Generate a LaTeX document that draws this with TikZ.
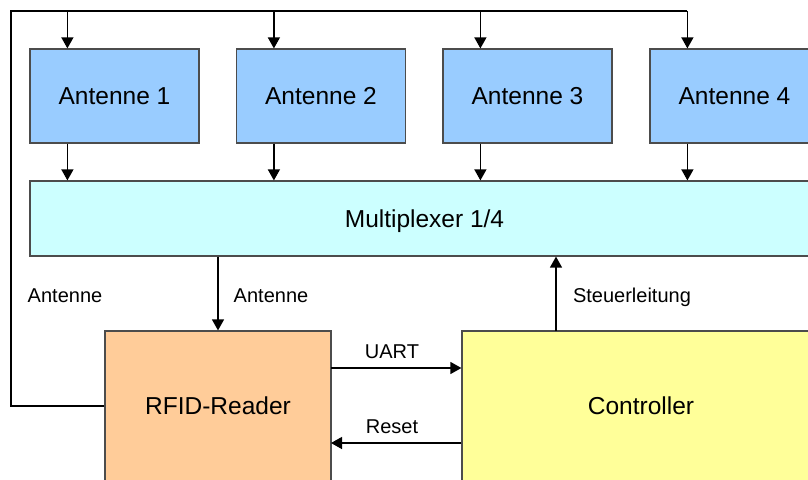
\documentclass[tikz,border=0pt]{standalone}
\usepackage{fontspec}
\setmainfont{Liberation Sans}
\usetikzlibrary{arrows.meta}

\definecolor{antfill}{HTML}{99CCFF}
\definecolor{muxfill}{HTML}{CCFFFF}
\definecolor{rfidfill}{HTML}{FFCC99}
\definecolor{ctrlfill}{HTML}{FFFF99}

\tikzset{
  block/.style={draw=black!70, line width=1.2pt, rectangle, inner sep=0pt,
    text height=17.5pt, text depth=0pt,
    font=\fontsize{24.5}{29}\selectfont},
  antbox/.style={block, fill=antfill, minimum width=169pt, minimum height=94pt},
  wire/.style={line width=1.3pt, draw=black},
  arr/.style={wire, -{Triangle[length=11pt,width=12pt]}},
  lbl/.style={anchor=base, inner sep=0pt, font=\fontsize{20}{24}\selectfont}
}

\begin{document}
\begin{tikzpicture}[x=1pt,y=-1pt]
  \useasboundingbox (0,0) rectangle (808,479);
  \clip (0,0) rectangle (808,479);

  % antenna row
  \node[antbox] (ant1) at (114.5,96) {Antenne 1};
  \node[antbox] (ant2) at (321,96) {Antenne 2};
  \node[antbox] (ant3) at (527.5,96) {Antenne 3};
  \node[antbox] (ant4) at (734.5,96) {Antenne 4};

  % multiplexer
  \node[block, fill=muxfill, minimum width=789pt, minimum height=75pt]
    (mux) at (424.5,218.5) {Multiplexer 1/4};

  % reader and controller
  \node[block, fill=rfidfill, minimum width=226pt, minimum height=150pt]
    (rfid) at (218,406) {RFID-Reader};
  \node[block, fill=ctrlfill, minimum width=358pt, minimum height=150pt]
    (ctrl) at (641,406) {Controller};

  % antenna feed bus
  \coordinate (busL) at (11,11);
  \coordinate (busB) at (11,406);
  \draw[wire] (rfid.west) -- (busB) -- (busL) -- ([xshift=38pt]ant4.north west |- busL);
  \foreach \a in {ant1,ant2,ant3,ant4}{
    \draw[arr] ([xshift=38pt]\a.north west |- busL) -- ([xshift=38pt]\a.north west);
    \draw[arr] ([xshift=38pt]\a.south west) -- ([xshift=38pt]\a.south west |- mux.north);
  }

  % multiplexer output to reader
  \draw[arr] (mux.south -| rfid.north) -- (rfid.north);

  % control line
  \coordinate (ctl) at (556,331);
  \draw[arr] (ctl) -- (ctl |- mux.south);

  % serial link and reset
  \coordinate (uart) at (331,368);
  \coordinate (rst) at (331,443);
  \draw[arr] (uart) -- (uart -| ctrl.west);
  \draw[arr] (rst -| ctrl.west) -- (rst);

  % labels
  \node[lbl] (lblA) at (65,302) {Antenne};
  \node[lbl] (lblB) at (271,302) {Antenne};
  \node[lbl] (lblS) at (632,302) {Steuerleitung};
  \node[lbl] (lblU) at (392,358) {UART};
  \node[lbl] (lblR) at (392,433) {Reset};
\end{tikzpicture}
\end{document}
